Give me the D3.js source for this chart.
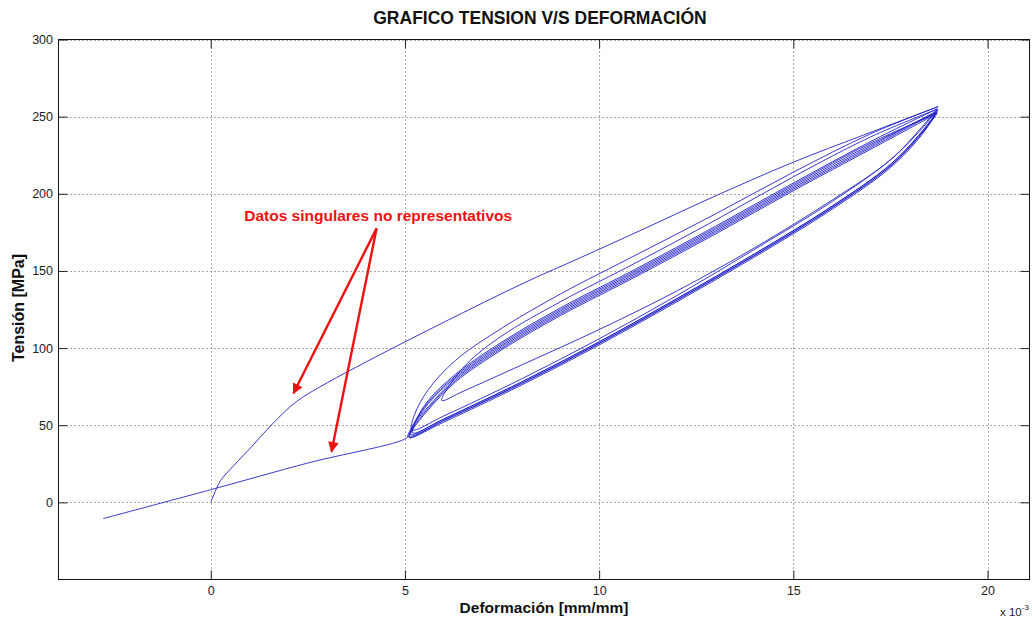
<!DOCTYPE html>
<html>
<head>
<meta charset="utf-8">
<script src="https://cdn.jsdelivr.net/npm/d3@7"></script>
<style>
  html, body { margin: 0; padding: 0; background: #fff; }
  svg { display: block; font-family: "Liberation Sans", Arial, sans-serif; }
</style>
</head>
<body>
<svg id="chart" width="1032" height="620"></svg>
<script>
// Strain in units of 1e-3 mm/mm, stress in MPa
const xTicks = [0, 5, 10, 15, 20];
const yTicks = [0, 50, 100, 150, 200, 250, 300];

// First loading curve (singular data)
const cargaInicial = [
  [0.0, 0.0], [0.08, 5], [0.25, 14], [0.6, 24], [1.1, 37.4], [1.61, 51.4],
  [2.21, 65.4], [3.0, 77.5], [4.0, 91], [5.0, 104], [6.5, 123],
  [8.13, 143], [9.51, 158.5], [11, 175.5], [12.94, 198], [15, 220.5], [16.8, 238],
  [18.73, 256.5]
];

// Unloading / reloading cycles: each runs from the upper tip down the upper branch,
// then back up the lower branch
const ciclo1 = [
  [18.73, 256.5], [17, 239], [15, 214], [13, 187], [11, 161], [9, 135], [7.5, 113],
  [6.3, 92], [5.6, 73], [5.25, 57], [5.18, 47],
  [6, 56], [8, 80], [10, 106], [12, 134], [14, 164], [16, 195], [17.5, 222], [18.3, 242], [18.72, 255]
];
const ciclo2 = [
  [18.72, 255], [17, 237], [15, 211], [13, 183], [11, 156], [9, 130], [7.5, 108],
  [6.6, 90], [6.1, 74], [5.95, 66],
  [6.5, 72], [8, 89], [10, 112], [12, 137], [14, 165], [16, 196], [17.5, 222], [18.3, 243], [18.7, 255]
];
const ciclo3 = [
  [18.7, 255], [17, 234], [15, 207], [13, 179], [11, 152], [9, 126], [7.5, 104],
  [6.3, 83], [5.6, 66], [5.28, 53], [5.2, 45],
  [6, 54], [8, 78], [10, 104], [12, 132], [14, 161], [16, 192], [17.5, 219], [18.3, 240], [18.7, 253]
];
const ciclo4 = [
  [18.7, 253], [17, 232], [15, 205], [13, 177], [11, 150], [9, 124], [7.5, 102],
  [6.3, 81], [5.6, 64], [5.25, 51], [5.12, 43],
  [6, 53], [8, 77], [10, 103], [12, 131], [14, 160], [16, 191], [17.5, 218], [18.3, 239], [18.72, 254]
];
const ciclo5 = [
  [18.72, 254], [17, 231], [15, 204], [13, 176], [11, 149], [9, 123], [7.5, 101],
  [6.3, 80], [5.6, 62], [5.22, 50], [5.15, 44],
  [6, 54], [8, 78], [10, 104], [12, 132], [14, 161], [16, 192], [17.5, 219], [18.3, 240], [18.7, 253]
];
const ciclo6 = [
  [18.7, 253], [17, 230], [15, 203], [13, 175], [11, 148], [9, 122], [7.5, 100],
  [6.3, 79], [5.6, 61], [5.2, 48], [5.1, 42],
  [6, 53], [8, 77], [10, 103], [12, 131], [14, 160], [16, 191], [17.5, 218], [18.3, 239], [18.7, 252]
];
const ciclo7 = [
  [18.7, 252], [17, 229], [15, 202], [13, 174], [11, 147], [9, 121], [7.5, 99],
  [6.3, 78], [5.6, 60], [5.2, 47], [5.12, 42],
  [6, 52], [8, 76], [10, 102], [12, 130], [14, 159], [16, 190], [17.5, 217], [18.3, 238], [18.68, 252]
];
const ciclo8 = [
  [18.68, 252], [17, 233], [15, 206], [13, 178], [11, 151], [9, 125], [7.5, 103],
  [6.3, 82], [5.6, 65], [5.25, 52], [5.08, 44]
];

// Final unloading (singular data)
const descargaFinal = [
  [5.04, 41.7], [2.5, 25.5], [0, 8.2], [-2.77, -10.5]
];

// Annotation
const notaTexto = "Datos singulares no representativos";
const notaPos = [4.31, 182.4];
const flechaOrigen = [4.27, 177.6];
const flechaPuntas = [[2.13, 70.7], [3.11, 32.9]];

const svg = d3.select("#chart");
const mLeft = 58.5, mRight = 1029.5, mTop = 39.5, mBottom = 579.5;

const x = d3.scaleLinear().domain([-3.92, 21.08]).range([mLeft, mRight]);
const y = d3.scaleLinear().domain([-50, 300]).range([mBottom, mTop]);

// Grid
const grid = svg.append("g").attr("stroke", "#555").attr("stroke-width", 1)
  .attr("stroke-dasharray", "1,3");
xTicks.forEach(t => {
  grid.append("line").attr("x1", Math.round(x(t)) + 0.5).attr("x2", Math.round(x(t)) + 0.5)
    .attr("y1", mTop).attr("y2", mBottom);
});
yTicks.forEach(t => {
  grid.append("line").attr("y1", Math.round(y(t)) + 0.5).attr("y2", Math.round(y(t)) + 0.5)
    .attr("x1", mLeft).attr("x2", mRight);
});

// Axes with inward ticks on all four sides
const tk = 9;
const axB = svg.append("g").attr("transform", `translate(0,${mBottom})`)
  .call(d3.axisBottom(x).tickValues(xTicks).tickSizeInner(-tk).tickSizeOuter(0).tickPadding(7));
const axT = svg.append("g").attr("transform", `translate(0,${mTop})`)
  .call(d3.axisTop(x).tickValues(xTicks).tickSizeInner(-tk).tickSizeOuter(0).tickFormat(""));
const axL = svg.append("g").attr("transform", `translate(${mLeft},0)`)
  .call(d3.axisLeft(y).tickValues(yTicks).tickSizeInner(-tk).tickSizeOuter(0).tickPadding(5.5));
const axR = svg.append("g").attr("transform", `translate(${mRight},0)`)
  .call(d3.axisRight(y).tickValues(yTicks).tickSizeInner(-tk).tickSizeOuter(0).tickFormat(""));
[axB, axT, axL, axR].forEach(a => {
  a.select(".domain").remove();
  a.selectAll(".tick line").attr("stroke", "#222");
  a.selectAll("text").attr("font-size", 12.5).attr("fill", "#222")
    .attr("font-family", "Liberation Sans, Arial, sans-serif");
});

svg.append("rect").attr("x", mLeft).attr("y", mTop)
  .attr("width", mRight - mLeft).attr("height", mBottom - mTop)
  .attr("fill", "none").attr("stroke", "#111").attr("stroke-width", 1);

// Curves
const line = d3.line().x(d => x(d[0])).y(d => y(d[1]))
  .curve(d3.curveCatmullRom.alpha(0.5));
const ciclos = [ciclo1, ciclo2, ciclo3, ciclo4, ciclo5, ciclo6, ciclo7, ciclo8];
const curves = svg.append("g").attr("fill", "none").attr("stroke", "#2424c8")
  .attr("stroke-width", 0.9);
curves.append("path").attr("d", line(cargaInicial));
curves.append("path").attr("d", line(ciclos.flat()));
curves.append("path").attr("d", line([ciclo8[ciclo8.length - 1], ...descargaFinal]));

// Annotation arrows
const defs = svg.append("defs");
defs.append("marker").attr("id", "punta").attr("viewBox", "0 0 10 10")
  .attr("refX", 9).attr("refY", 5).attr("markerWidth", 5.2).attr("markerHeight", 4.4)
  .attr("orient", "auto").attr("markerUnits", "strokeWidth")
  .append("path").attr("d", "M0,0 L10,5 L0,10 Z").attr("fill", "#ee1111");
flechaPuntas.forEach(p => {
  svg.append("line")
    .attr("x1", x(flechaOrigen[0])).attr("y1", y(flechaOrigen[1]))
    .attr("x2", x(p[0])).attr("y2", y(p[1]))
    .attr("stroke", "#ee1111").attr("stroke-width", 2.4)
    .attr("marker-end", "url(#punta)");
});
svg.append("text").attr("x", x(notaPos[0])).attr("y", y(notaPos[1]))
  .attr("text-anchor", "middle").attr("font-size", 15.5).attr("font-weight", "bold")
  .attr("fill", "#ee1111").text(notaTexto);

// Titles
svg.append("text").attr("x", 540).attr("y", 24).attr("text-anchor", "middle")
  .attr("font-size", 17.5).attr("font-weight", "bold").attr("fill", "#111")
  .text("GRAFICO TENSION V/S DEFORMACIÓN");
svg.append("text").attr("x", 544).attr("y", 613).attr("text-anchor", "middle")
  .attr("font-size", 15.5).attr("font-weight", "bold").attr("fill", "#111")
  .text("Deformación [mm/mm]");
svg.append("text").attr("transform", "translate(24,308) rotate(-90)")
  .attr("text-anchor", "middle").attr("font-size", 16).attr("font-weight", "bold")
  .attr("fill", "#111").text("Tensión [MPa]");

// Exponent of the strain axis
const exp = svg.append("text").attr("x", 1000).attr("y", 616).attr("font-size", 11.5)
  .attr("fill", "#222");
exp.append("tspan").text("x 10");
exp.append("tspan").attr("dy", -6).attr("font-size", 8).text("-3");
</script>
</body>
</html>
